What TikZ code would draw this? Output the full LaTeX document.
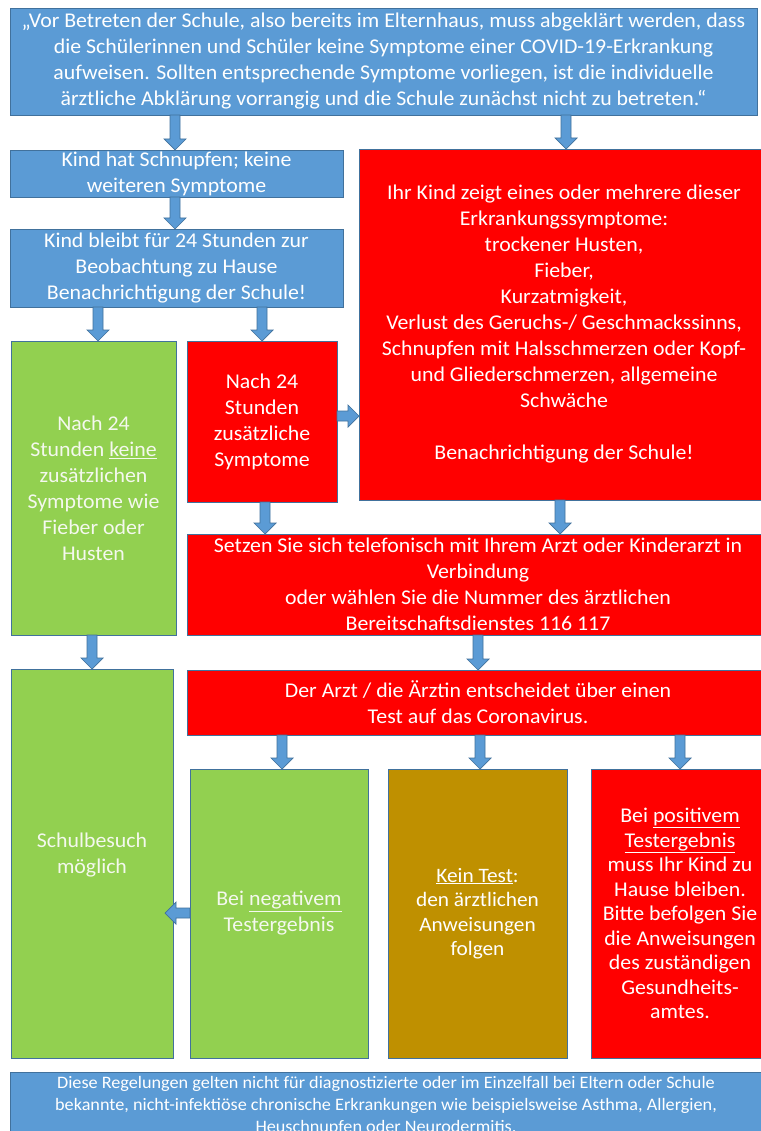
\documentclass[tikz,border=0pt]{standalone}
\usepackage{fontspec}
\setmainfont{Carlito}[FakeStretch=1.04]
\usetikzlibrary{calc}
\definecolor{cblue}{HTML}{5B9BD5}
\definecolor{bord}{HTML}{41719C}
\definecolor{cred}{HTML}{FF0000}
\definecolor{cgreen}{HTML}{92D050}
\definecolor{cgold}{HTML}{BF9000}
\definecolor{gtext}{HTML}{F4F8EE}
\newcommand\fA{\fontsize{21}{26}\selectfont}
\newcommand\fB{\fontsize{20.5}{24.5}\selectfont}
\newcommand\fP{\fontsize{21}{24.5}\selectfont}
\newcommand\fC{\fontsize{17.5}{22}\selectfont}
\tikzset{
  box/.style={draw=bord, line width=0.8pt, inner sep=0pt, outer sep=0pt,
    anchor=north west, align=center, text=white, font=\fA},
  bluebox/.style={box, fill=cblue},
  redbox/.style={box, fill=cred},
  greenbox/.style={box, fill=cgreen, text=gtext},
  goldbox/.style={box, fill=cgold},
  txt/.style={inner sep=0pt, align=center, font=\fA},
  barrow/.style={draw=bord, fill=cblue, line width=0.7pt, line join=miter,
    to path={let \p1=(\tikztostart), \p2=(\tikztotarget),
      \n1={atan2(\y2-\y1,\x2-\x1)}, \n2={veclen(\x2-\x1,\y2-\y1)} in
      [shift={(\p1)}, rotate=\n1]
      (0,-5) -- (\n2-11,-5) -- (\n2-11,-11) -- (\n2,0) -- (\n2-11,11)
      -- (\n2-11,5) -- (0,5) -- cycle}},
}
\begin{document}
\begin{tikzpicture}[x=1pt,y=-1pt]
\useasboundingbox (0,0) rectangle (760,1131);
\fill[white] (0,0) rectangle (760,1131);

\node[bluebox, minimum width=747, minimum height=107] (top) at (10,8)
  {„Vor Betreten der Schule, also bereits im Elternhaus, muss abgeklärt werden, dass\\
   die Schülerinnen und Schüler keine Symptome einer COVID-19-Erkrankung\\
   aufweisen. Sollten entsprechende Symptome vorliegen, ist die individuelle\\
   ärztliche Abklärung vorrangig und die Schule zunächst nicht zu betreten.“};

\node[bluebox, minimum width=333, minimum height=47] (kind1) at (10,150)
  {Kind hat Schnupfen; keine\\weiteren Symptome};

\node[bluebox, minimum width=333, minimum height=78] (kind2) at (10,229)
  {Kind bleibt für 24 Stunden zur\\Beobachtung zu Hause\\Benachrichtigung der Schule!};

\node[redbox, minimum width=410, minimum height=351] (bigred) at (359,149)
  {Ihr Kind zeigt eines oder mehrere dieser\\
   Erkrankungssymptome:\\
   trockener Husten,\\
   Fieber,\\
   Kurzatmigkeit,\\
   Verlust des Geruchs-/ Geschmackssinns,\\
   Schnupfen mit Halsschmerzen oder Kopf-\\
   und Gliederschmerzen, allgemeine\\
   Schwäche\\[26pt]
   Benachrichtigung der Schule!};

\node[greenbox, minimum width=165, minimum height=294] (green1) at (11,341)
  {Nach 24\\Stunden \underline{keine}\\zusätzlichen\\Symptome wie\\Fieber oder\\Husten};

\node[redbox, minimum width=150, minimum height=161] (red24) at (187,341)
  {Nach 24\\Stunden\\zusätzliche\\Symptome};

\node[redbox, minimum width=582, minimum height=101] (setzen) at (187,534)
  {Setzen Sie sich telefonisch mit Ihrem Arzt oder Kinderarzt in\\
   Verbindung\\
   oder wählen Sie die Nummer des ärztlichen\\
   Bereitschaftsdienstes 116 117};

\node[greenbox, minimum width=162, minimum height=389] (schul) at (11,669) {};
\node[txt, text=gtext] (schultxt) at (92,855) {Schulbesuch\\möglich};

\node[redbox, minimum width=582, minimum height=65] (arzt) at (187,670)
  {Der Arzt / die Ärztin entscheidet über einen\\Test auf das Coronavirus.};

\node[greenbox, minimum width=178, minimum height=289] (neg) at (190,769)
  {Bei \underline{negativem}\\Testergebnis};

\node[goldbox, minimum width=179, minimum height=289, font=\fB] (kein) at (388,769)
  {\underline{Kein Test}:\\den ärztlichen\\Anweisungen\\folgen};

\node[redbox, minimum width=178, minimum height=289, font=\fP] (pos) at (591,769)
  {Bei \underline{positivem}\\\underline{Testergebnis}\\muss Ihr Kind zu\\Hause bleiben.\\
   Bitte befolgen Sie\\die Anweisungen\\des zuständigen\\Gesundheits-\\amtes.};

\node[bluebox, minimum width=752, minimum height=67, font=\fC] (bottom) at (10,1072)
  {Diese Regelungen gelten nicht für diagnostizierte oder im Einzelfall bei Eltern oder Schule\\
   bekannte, nicht-infektiöse chronische Erkrankungen wie beispielsweise Asthma, Allergien,\\
   Heuschnupfen oder Neurodermitis.};

% arrow guide coordinates
\coordinate (xa) at (175,0);
\coordinate (xb) at (566,0);
\coordinate (xc) at (98,0);
\coordinate (xd) at (262,0);
\coordinate (xe) at (265,0);
\coordinate (xf) at (560,0);
\coordinate (xg) at (92,0);
\coordinate (xh) at (478,0);
\coordinate (xi) at (282,0);
\coordinate (xj) at (480,0);
\coordinate (xk) at (680,0);
\coordinate (ya) at (0,416);
\coordinate (yb) at (0,913);

\draw[barrow] (top.south -| xa) to (kind1.north -| xa);
\draw[barrow] (top.south -| xb) to (bigred.north -| xb);
\draw[barrow] (kind1.south -| xa) to (kind2.north -| xa);
\draw[barrow] (kind2.south -| xc) to (green1.north -| xc);
\draw[barrow] (kind2.south -| xd) to (red24.north -| xd);
\draw[barrow] (red24.east |- ya) to (bigred.west |- ya);
\draw[barrow] (red24.south -| xe) to (setzen.north -| xe);
\draw[barrow] (bigred.south -| xf) to (setzen.north -| xf);
\draw[barrow] (green1.south -| xg) to (schul.north -| xg);
\draw[barrow] (setzen.south -| xh) to (arzt.north -| xh);
\draw[barrow] (arzt.south -| xi) to (neg.north -| xi);
\draw[barrow] (arzt.south -| xj) to (kein.north -| xj);
\draw[barrow] (arzt.south -| xk) to (pos.north -| xk);
\draw[barrow] (neg.west |- yb) to ($(schul.east |- yb)+(-8,0)$);
\end{tikzpicture}
\end{document}
